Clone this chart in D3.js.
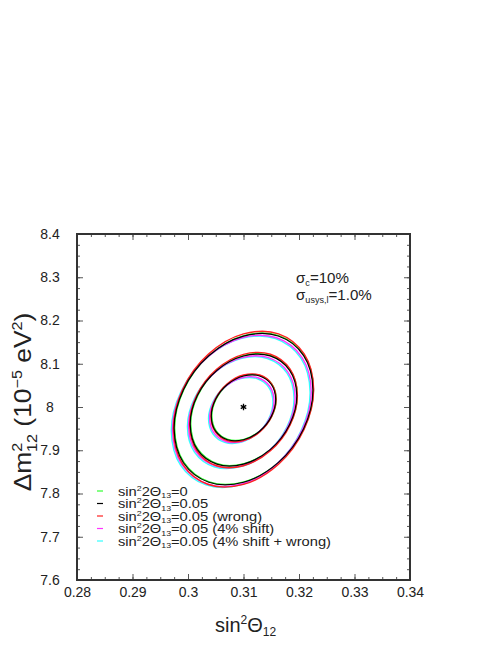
<!DOCTYPE html>
<html>
<head>
<meta charset="utf-8">
<script src="https://cdn.jsdelivr.net/npm/d3@7"></script>
<style>
  body { margin: 0; background: #fff; }
  text { font-family: "Liberation Sans", Arial, sans-serif; fill: #222; }
</style>
</head>
<body>
<div id="chart"></div>
<script>
// axis values
const xTicks = [0.28, 0.29, 0.30, 0.31, 0.32, 0.33, 0.34];
const xTickLabels = ['0.28', '0.29', '0.3', '0.31', '0.32', '0.33', '0.34'];
const yTicks = [7.6, 7.7, 7.8, 7.9, 8.0, 8.1, 8.2, 8.3, 8.4];
const yTickLabels = ['7.6', '7.7', '7.8', '7.9', '8', '8.1', '8.2', '8.3', '8.4'];

// best fit point
const bestFit = [0.31, 8.0];

// contours (sin^2 th12, dm^2)
const greenInner = [[0.3159,8.0188],[0.31512,8.0530],[0.3130,8.0727],[0.3101,8.0727],[0.3072,8.0529],[0.30508,8.0187],[0.3043,7.9792],[0.30508,7.9450],[0.3072,7.9253],[0.3101,7.9253],[0.3130,7.9451],[0.31512,7.9793]];
const greenMiddle = [[0.3197,8.0277],[0.31841,8.0857],[0.3149,8.1191],[0.3101,8.1190],[0.3053,8.0855],[0.30179,8.0274],[0.3005,7.9603],[0.30179,7.9023],[0.3053,7.8689],[0.3101,7.8690],[0.3149,7.9025],[0.31841,7.9606]];
const greenOuter = [[0.3226,8.0415],[0.32093,8.1199],[0.31635,8.1651],[0.3101,8.1650],[0.30385,8.1196],[0.29928,8.0411],[0.2976,7.9505],[0.29928,7.8721],[0.30385,7.8269],[0.3101,7.8270],[0.31635,7.8724],[0.32093,7.9509]];

const blackInner = [[0.3158,8.0178],[0.31502,8.0520],[0.3129,8.0717],[0.3100,8.0717],[0.3071,8.0519],[0.30498,8.0177],[0.3042,7.9782],[0.30498,7.9440],[0.3071,7.9243],[0.3100,7.9243],[0.3129,7.9441],[0.31502,7.9783]];
const blackMiddle = [[0.3196,8.0267],[0.31831,8.0847],[0.3148,8.1181],[0.3100,8.1180],[0.3052,8.0845],[0.30169,8.0264],[0.3004,7.9593],[0.30169,7.9013],[0.3052,7.8679],[0.3100,7.8680],[0.3148,7.9015],[0.31831,7.9596]];
const blackOuter = [[0.3225,8.0405],[0.32083,8.1189],[0.31625,8.1641],[0.3100,8.1640],[0.30375,8.1186],[0.29918,8.0401],[0.2975,7.9495],[0.29918,7.8711],[0.30375,7.8259],[0.3100,7.8260],[0.31625,7.8714],[0.32083,7.9499]];

const redInner = [[0.31586,8.0184],[0.31507,8.0536],[0.31293,8.0739],[0.3100,8.0739],[0.30707,8.0535],[0.30493,8.0182],[0.30414,7.9776],[0.30493,7.9424],[0.30707,7.9221],[0.3100,7.9221],[0.31293,7.9425],[0.31507,7.9778]];
const redMiddle = [[0.3197,8.0277],[0.3184,8.0874],[0.31485,8.1219],[0.3100,8.1218],[0.30515,8.0872],[0.3016,8.0274],[0.3003,7.9583],[0.3016,7.8986],[0.30515,7.8641],[0.3100,7.8642],[0.31485,7.8988],[0.3184,7.9586]];
const redOuter = [[0.32263,8.0419],[0.32093,8.1226],[0.31631,8.1692],[0.3100,8.1690],[0.30369,8.1223],[0.29907,8.0414],[0.29738,7.9481],[0.29907,7.8674],[0.30369,7.8208],[0.3100,7.8210],[0.31631,7.8677],[0.32093,7.9486]];

const magentaInner = [[0.3155,8.0138],[0.31472,8.0480],[0.3126,8.0677],[0.3097,8.0677],[0.3068,8.0479],[0.30468,8.0137],[0.3039,7.9742],[0.30468,7.9400],[0.3068,7.9203],[0.3097,7.9203],[0.3126,7.9401],[0.31472,7.9743]];
const magentaMiddle = [[0.3193,8.0227],[0.31801,8.0807],[0.3145,8.1141],[0.3097,8.1140],[0.3049,8.0805],[0.30139,8.0224],[0.3001,7.9553],[0.30139,7.8973],[0.3049,7.8639],[0.3097,7.8640],[0.3145,7.8975],[0.31801,7.9556]];
const magentaOuter = [[0.3222,8.0365],[0.32053,8.1149],[0.31595,8.1601],[0.3097,8.1600],[0.30345,8.1146],[0.29888,8.0361],[0.2972,7.9455],[0.29888,7.8671],[0.30345,7.8219],[0.3097,7.8220],[0.31595,7.8674],[0.32053,7.9459]];

const cyanInner = [[0.3153,8.0118],[0.31452,8.0460],[0.3124,8.0657],[0.3095,8.0657],[0.3066,8.0459],[0.30448,8.0117],[0.3037,7.9722],[0.30448,7.9380],[0.3066,7.9183],[0.3095,7.9183],[0.3124,7.9381],[0.31452,7.9723]];
const cyanMiddle = [[0.3191,8.0207],[0.31781,8.0787],[0.3143,8.1121],[0.3095,8.1120],[0.3047,8.0785],[0.30119,8.0204],[0.2999,7.9533],[0.30119,7.8953],[0.3047,7.8619],[0.3095,7.8620],[0.3143,7.8955],[0.31781,7.9536]];
const cyanOuter = [[0.3220,8.0345],[0.32033,8.1129],[0.31575,8.1581],[0.3095,8.1580],[0.30325,8.1126],[0.29868,8.0341],[0.2970,7.9435],[0.29868,7.8651],[0.30325,7.8199],[0.3095,7.8200],[0.31575,7.8654],[0.32033,7.9439]];

const legendLabels = [
  [['sin', ''], ['2', 'sup'], ['2\u0398', ''], ['13', 'sub'], ['=0', '']],
  [['sin', ''], ['2', 'sup'], ['2\u0398', ''], ['13', 'sub'], ['=0.05', '']],
  [['sin', ''], ['2', 'sup'], ['2\u0398', ''], ['13', 'sub'], ['=0.05 (wrong)', '']],
  [['sin', ''], ['2', 'sup'], ['2\u0398', ''], ['13', 'sub'], ['=0.05 (4% shift)', '']],
  [['sin', ''], ['2', 'sup'], ['2\u0398', ''], ['13', 'sub'], ['=0.05 (4% shift + wrong)', '']]
];
const seriesColors = ['#33ff33', '#000000', '#ff2020', '#ff33ff', '#33ffff'];

const series = [
  { color: seriesColors[0], contours: [greenInner, greenMiddle, greenOuter] },
  { color: seriesColors[1], contours: [blackInner, blackMiddle, blackOuter] },
  { color: seriesColors[2], contours: [redInner, redMiddle, redOuter] },
  { color: seriesColors[3], contours: [magentaInner, magentaMiddle, magentaOuter] },
  { color: seriesColors[4], contours: [cyanInner, cyanMiddle, cyanOuter] }
];
const drawOrder = [0, 4, 3, 2, 1];

const width = 498, height = 645;
const box = { left: 77, right: 410, top: 234, bottom: 580 };

const svg = d3.select('#chart').append('svg')
    .attr('width', width)
    .attr('height', height);

const x = d3.scaleLinear().domain([0.28, 0.34]).range([box.left, box.right]);
const y = d3.scaleLinear().domain([7.6, 8.4]).range([box.bottom, box.top]);

// write text with super / subscripts
function richText(sel, parts, size) {
    let shift = 0;
    parts.forEach(([t, kind]) => {
        let target = 0, fs = size;
        if (kind === 'sup') { target = -0.38 * size; fs = size * 0.6; }
        if (kind === 'sub') { target = 0.22 * size; fs = size * 0.6; }
        sel.append('tspan')
            .attr('dy', target - shift)
            .style('font-size', fs + 'px')
            .text(t);
        shift = target;
    });
}

const xMinor = d3.range(0.28, 0.34001, 0.0025);
const yMinor = d3.range(7.6, 8.40001, 0.025);

function tickAxis(axis) {
    return g => {
        g.call(axis);
        g.select('.domain').remove();
        g.selectAll('.tick line').attr('stroke', '#555').attr('stroke-width', 1);
    };
}

// minor ticks on all four sides
svg.append('g').attr('transform', `translate(0,${box.bottom})`)
    .call(tickAxis(d3.axisBottom(x).tickValues(xMinor).tickSizeInner(-3).tickSizeOuter(0).tickFormat('')));
svg.append('g').attr('transform', `translate(0,${box.top})`)
    .call(tickAxis(d3.axisTop(x).tickValues(xMinor).tickSizeInner(-3).tickSizeOuter(0).tickFormat('')));
svg.append('g').attr('transform', `translate(${box.left},0)`)
    .call(tickAxis(d3.axisLeft(y).tickValues(yMinor).tickSizeInner(-3).tickSizeOuter(0).tickFormat('')));
svg.append('g').attr('transform', `translate(${box.right},0)`)
    .call(tickAxis(d3.axisRight(y).tickValues(yMinor).tickSizeInner(-3).tickSizeOuter(0).tickFormat('')));

// major ticks with labels
const xAxis = svg.append('g').attr('transform', `translate(0,${box.bottom})`)
    .call(tickAxis(d3.axisBottom(x).tickValues(xTicks).tickSizeInner(-6).tickSizeOuter(0)
        .tickPadding(7).tickFormat((d, i) => xTickLabels[i])));
xAxis.selectAll('text').style('font-size', '14px').attr('fill', '#222');
svg.append('g').attr('transform', `translate(0,${box.top})`)
    .call(tickAxis(d3.axisTop(x).tickValues(xTicks).tickSizeInner(-6).tickSizeOuter(0).tickFormat('')));
const yAxis = svg.append('g').attr('transform', `translate(${box.left},0)`)
    .call(tickAxis(d3.axisLeft(y).tickValues(yTicks).tickSizeInner(-6).tickSizeOuter(0)
        .tickFormat((d, i) => yTickLabels[i])));
yAxis.selectAll('text').style('font-size', '14px').attr('fill', '#222')
    .attr('text-anchor', 'middle').attr('x', -27);
svg.append('g').attr('transform', `translate(${box.right},0)`)
    .call(tickAxis(d3.axisRight(y).tickValues(yTicks).tickSizeInner(-6).tickSizeOuter(0).tickFormat('')));

// frame
svg.append('rect')
    .attr('x', box.left).attr('y', box.top)
    .attr('width', box.right - box.left).attr('height', box.bottom - box.top)
    .attr('fill', 'none').attr('stroke', '#333').attr('stroke-width', 2);

// contours
const line = d3.line()
    .x(d => x(d[0]))
    .y(d => y(d[1]))
    .curve(d3.curveCatmullRomClosed.alpha(0.5));

drawOrder.forEach(si => {
    const s = series[si];
    svg.append('g').selectAll('path')
        .data(s.contours)
        .join('path')
        .attr('d', line)
        .attr('fill', 'none')
        .attr('stroke', s.color)
        .attr('stroke-width', si === 1 ? 1.2 : 1.4);
});

// best fit marker
svg.append('path')
    .attr('transform', `translate(${x(bestFit[0])},${y(bestFit[1])})`)
    .attr('d', d3.symbol(d3.symbolAsterisk, 28)())
    .attr('fill', 'none')
    .attr('stroke', '#000')
    .attr('stroke-width', 1.3);

// legend
const legend = svg.append('g');
legendLabels.forEach((parts, i) => {
    const ly = 491 + i * 12.5;
    legend.append('line')
        .attr('x1', 97).attr('x2', 103)
        .attr('y1', ly).attr('y2', ly)
        .attr('stroke', seriesColors[i]).attr('stroke-width', 1.2);
    const t = legend.append('text')
        .attr('transform', `translate(118,${ly + 4.5}) scale(1.13,1)`)
        .style('font-size', '13px');
    richText(t, parts, 13);
});

// annotation
const a1 = svg.append('text').attr('transform', 'translate(296,283) scale(1.08,1)').style('font-size', '14px');
richText(a1, [['\u03c3', ''], ['c', 'sub'], ['=10%', '']], 14);
const a2 = svg.append('text').attr('transform', 'translate(296,300) scale(1.08,1)').style('font-size', '14px');
richText(a2, [['\u03c3', ''], ['usys,l', 'sub'], ['=1.0%', '']], 14);

// axis titles
const xt = svg.append('text').attr('x', 215).attr('y', 632).style('font-size', '20px');
richText(xt, [['sin', ''], ['2', 'sup'], ['\u0398', ''], ['12', 'sub']], 20);

const yt = svg.append('text')
    .attr('transform', 'translate(31,402) rotate(-90) scale(1.15,1)')
    .attr('text-anchor', 'middle')
    .style('font-size', '23px');
yt.append('tspan').text('\u0394m');
yt.append('tspan').attr('dy', -9).style('font-size', '14px').text('2');
yt.append('tspan').attr('dx', -8).attr('dy', 15).style('font-size', '14px').text('12');
yt.append('tspan').attr('dy', -6).text(' (10');
yt.append('tspan').attr('dy', -9).style('font-size', '14px').text('\u22125');
yt.append('tspan').attr('dy', 9).text(' eV');
yt.append('tspan').attr('dy', -9).style('font-size', '14px').text('2');
yt.append('tspan').attr('dy', 9).text(')');
</script>
</body>
</html>
